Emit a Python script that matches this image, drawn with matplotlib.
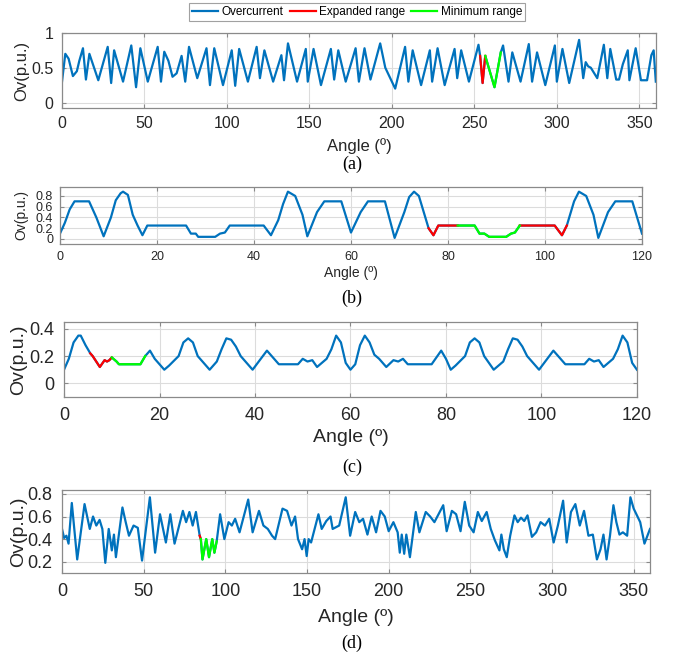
import numpy as np
import matplotlib
matplotlib.use("Agg")
import matplotlib.pyplot as plt
from matplotlib.lines import Line2D

plt.rcParams['font.family'] = ['Liberation Sans', 'DejaVu Sans']

# Colores estilo MATLAB
BLUE = '#0072BD'
RED = '#FF0000'
GREEN = '#00FF00'

# ---- datos (a) ----
a_ang = [0, 2, 4, 6.6, 9, 10.5, 12.7, 14.5, 16.6, 22, 27.7, 29.8, 31.6, 37, 42, 44.9, 47.5, 52,
         58, 60, 62, 64.5, 67, 69.5, 72.5, 74.7, 77, 82, 87.6, 89.7, 92.3, 97.6, 102.9, 105, 107.4,
         112.7, 118, 120, 122.7, 128, 133, 134.6, 137, 142.5, 147.8, 149, 152.5, 157, 163, 165,
         167.5, 172, 178, 180, 183.4, 187, 192.9, 196, 202, 208, 210, 212.6, 217.7, 223, 224.4,
         227.7, 232, 238, 239.6, 242, 246.7, 252.5, 253.5, 255, 256.6, 262.2, 266, 267.4, 270.7,
         273, 278, 283, 285, 288, 293, 298.8, 300, 303.4, 307.5, 313.5, 316, 317.5, 319, 320.6,
         324.5, 328.5, 330.6, 332.4, 336, 337.7, 340, 343, 344, 347.8, 351, 354.7, 357.3, 358.7, 360]
a_val = [0.3, 0.7, 0.63, 0.38, 0.45, 0.6, 0.78, 0.33, 0.7, 0.32, 0.8, 0.28, 0.75, 0.3, 0.82, 0.22,
         0.78, 0.3, 0.8, 0.3, 0.73, 0.6, 0.37, 0.42, 0.67, 0.3, 0.8, 0.35, 0.78, 0.25, 0.78, 0.25,
         0.75, 0.24, 0.77, 0.3, 0.8, 0.35, 0.75, 0.3, 0.68, 0.32, 0.85, 0.3, 0.77, 0.3, 0.77, 0.25,
         0.77, 0.33, 0.75, 0.3, 0.78, 0.3, 0.78, 0.33, 0.85, 0.5, 0.2, 0.8, 0.3, 0.75, 0.25, 0.75,
         0.3, 0.78, 0.25, 0.77, 0.35, 0.75, 0.3, 0.83, 0.67, 0.28, 0.67, 0.22, 0.72, 0.82, 0.3,
         0.72, 0.3, 0.84, 0.3, 0.72, 0.25, 0.82, 0.3, 0.77, 0.28, 0.9, 0.35, 0.58, 0.52, 0.5,
         0.35, 0.83, 0.35, 0.77, 0.33, 0.33, 0.55, 0.75, 0.32, 0.78, 0.32, 0.32, 0.68, 0.75, 0.3]
a_red = [(253.5, 256.6)]
a_green = [(256.6, 266)]

# ---- datos (b) ----
b_ang = [0, 1, 2, 3, 6, 7.5, 9, 10.5, 11.5, 12.5, 13, 14, 15, 16, 17, 18, 26, 27, 28, 28.5, 32,
         33, 34, 35, 42, 43.5, 45, 46, 47, 48.5, 50, 51, 53, 54.5, 58, 60, 62, 63.5, 67, 69, 71,
         72, 73, 74, 75.5, 76, 77, 78, 82, 85.5, 86.5, 87.5, 88.5, 92, 93, 93.8, 94.8, 102, 103.5,
         104.5, 105, 106, 107, 108.5, 110, 111, 113, 114.5, 118, 120]
b_val = [0.1, 0.3, 0.55, 0.7, 0.7, 0.4, 0.05, 0.4, 0.72, 0.85, 0.88, 0.82, 0.45, 0.25, 0.07, 0.25,
         0.25, 0.1, 0.1, 0.04, 0.04, 0.1, 0.12, 0.25, 0.25, 0.07, 0.35, 0.65, 0.88, 0.8, 0.45, 0.05,
         0.5, 0.7, 0.7, 0.12, 0.5, 0.7, 0.7, 0.02, 0.5, 0.78, 0.88, 0.8, 0.35, 0.2, 0.07, 0.25,
         0.25, 0.25, 0.1, 0.1, 0.04, 0.04, 0.1, 0.12, 0.25, 0.25, 0.07, 0.25, 0.4, 0.7, 0.88, 0.8,
         0.45, 0.02, 0.5, 0.7, 0.7, 0.1]
b_red = [(76, 82), (94.8, 104.5)]
b_green = [(82, 94.8)]

# ---- datos (c) ----
c_ang = [0, 1, 2, 3, 3.5, 4.5, 5.5, 6, 7.5, 8.5, 9, 9.5, 10, 11, 11.5, 16, 17, 18, 19, 21, 22, 24,
         25, 26, 27, 28, 30.5, 32, 33, 34, 35, 36, 37, 39.5, 41, 42.5, 44, 45, 49, 50, 51, 52, 53,
         55, 56, 57, 58, 59, 60, 61, 62, 63, 64, 65, 66, 67.5, 69, 70, 71, 72, 77, 79, 80, 81, 82,
         84, 85, 86, 87, 88, 90, 92, 93, 94, 95, 96, 97, 99.5, 101, 102.5, 104, 105, 109, 110, 111,
         112, 113, 115, 116, 117, 118, 119, 120]
c_val = [0.1, 0.18, 0.3, 0.35, 0.35, 0.28, 0.22, 0.2, 0.12, 0.17, 0.16, 0.17, 0.19, 0.16, 0.14,
         0.14, 0.2, 0.24, 0.18, 0.1, 0.13, 0.2, 0.3, 0.33, 0.3, 0.2, 0.1, 0.16, 0.25, 0.33, 0.32,
         0.27, 0.2, 0.1, 0.17, 0.24, 0.18, 0.14, 0.14, 0.18, 0.16, 0.17, 0.12, 0.18, 0.25, 0.35,
         0.3, 0.15, 0.1, 0.14, 0.28, 0.35, 0.3, 0.21, 0.18, 0.12, 0.17, 0.16, 0.18, 0.14, 0.14,
         0.24, 0.18, 0.1, 0.13, 0.2, 0.3, 0.33, 0.3, 0.2, 0.1, 0.16, 0.25, 0.33, 0.32, 0.27, 0.2,
         0.1, 0.17, 0.24, 0.18, 0.14, 0.14, 0.18, 0.16, 0.17, 0.12, 0.18, 0.25, 0.35, 0.3, 0.15, 0.1]
c_red = [(5.5, 10)]
c_green = [(10, 17)]

# ---- datos (d) ----
d_ang = [0, 1.3, 2.7, 4, 6, 9.3, 13.8, 17, 19, 21, 23, 24.7, 26.5, 28.6, 30.5, 31.8, 33, 37, 39,
         41, 43.8, 46.4, 49, 53.8, 57, 60, 63.6, 66.3, 68.9, 74, 76, 78, 80, 82, 84.3, 85, 86,
         88.3, 90, 92, 93.3, 94.7, 96.8, 99.4, 102, 104, 106, 108.7, 114, 116.7, 120.6, 123.3, 126,
         128.6, 130.5, 135, 137.8, 140.5, 142.7, 144.5, 147, 148.5, 149.8, 151, 152.5, 157, 159,
         161.8, 164.4, 165.7, 169.7, 173.7, 176.4, 179.5, 182, 184.3, 187, 189.6, 192.3, 195,
         197.6, 200, 202.9, 205.5, 206.8, 208, 209.5, 210.8, 213, 216.6, 218.8, 222.7, 225.4, 228,
         233.4, 235.5, 238.7, 241.3, 244, 246.6, 249.3, 252, 254.6, 257, 260, 262.5, 265, 267.8,
         269, 270.5, 272.3, 274.4, 277, 279, 281, 283, 285, 287.7, 290.3, 293, 295.7, 298.3, 301,
         303.6, 306.8, 309, 311.6, 314.3, 317, 319.6, 322.3, 325, 327.5, 329.7, 331.5, 333.4,
         335.5, 337.6, 339.4, 341.3, 343.4, 346, 348, 350, 354, 356.6, 360]
d_val = [0.49, 0.41, 0.43, 0.36, 0.72, 0.22, 0.71, 0.49, 0.6, 0.52, 0.57, 0.49, 0.19, 0.49, 0.3,
         0.44, 0.24, 0.68, 0.55, 0.43, 0.52, 0.5, 0.21, 0.77, 0.28, 0.62, 0.37, 0.62, 0.36, 0.65,
         0.55, 0.64, 0.52, 0.64, 0.43, 0.4, 0.22, 0.4, 0.24, 0.4, 0.28, 0.38, 0.62, 0.4, 0.55, 0.52,
         0.58, 0.46, 0.75, 0.46, 0.65, 0.52, 0.49, 0.43, 0.4, 0.67, 0.65, 0.52, 0.6, 0.4, 0.31, 0.4,
         0.25, 0.4, 0.37, 0.62, 0.49, 0.56, 0.6, 0.49, 0.52, 0.77, 0.43, 0.64, 0.55, 0.58, 0.44,
         0.6, 0.46, 0.65, 0.6, 0.47, 0.55, 0.46, 0.28, 0.44, 0.27, 0.44, 0.24, 0.64, 0.46, 0.64,
         0.6, 0.55, 0.7, 0.47, 0.65, 0.62, 0.47, 0.73, 0.52, 0.46, 0.64, 0.56, 0.64, 0.49, 0.39,
         0.3, 0.44, 0.31, 0.24, 0.43, 0.61, 0.55, 0.59, 0.56, 0.61, 0.42, 0.46, 0.55, 0.52, 0.58,
         0.37, 0.52, 0.74, 0.37, 0.64, 0.71, 0.52, 0.65, 0.43, 0.44, 0.22, 0.31, 0.44, 0.22, 0.43,
         0.7, 0.55, 0.44, 0.46, 0.43, 0.77, 0.67, 0.55, 0.36, 0.49]
d_red = [(84.3, 85)]
d_green = [(85, 94.7)]

# paneles: datos, rangos, posicion, limites, fuentes, posiciones de etiquetas
panels = [
    dict(x=a_ang, y=a_val, red=a_red, green=a_green, pos=[0.092, 0.836, 0.881, 0.114],
         xl=(0, 360), yl=(-0.08, 1.0), yt=[0, 0.5, 1], ytl=['0', '0.5', '1'],
         xt=np.arange(0, 361, 50), fst=11.5, fsl=12, pad=6, xlab=-0.50, ylab=-0.067,
         tag='(a)', ty=0.750),
    dict(x=b_ang, y=b_val, red=b_red, green=b_green, pos=[0.089, 0.630, 0.8635, 0.0865],
         xl=(0, 120), yl=(-0.09, 0.97), yt=[0, 0.2, 0.4, 0.6, 0.8],
         ytl=['0', '0.2', '0.4', '0.6', '0.8'], xt=np.arange(0, 121, 20), fst=9, fsl=10,
         pad=5, xlab=-0.51, ylab=-0.067, tag='(b)', ty=0.548),
    dict(x=c_ang, y=c_val, red=c_red, green=c_green, pos=[0.095, 0.3976, 0.850, 0.1138],
         xl=(0, 120), yl=(-0.1, 0.45), yt=[0, 0.2, 0.4], ytl=['0', '0.2', '0.4'],
         xt=np.arange(0, 121, 20), fst=13, fsl=14, pad=7, xlab=-0.54, ylab=-0.079,
         tag='(c)', ty=0.291),
    dict(x=d_ang, y=d_val, red=d_red, green=d_green, pos=[0.092, 0.1305, 0.8724, 0.126],
         xl=(0, 360), yl=(0.1, 0.835), yt=[0.2, 0.4, 0.6, 0.8],
         ytl=['0.2', '0.4', '0.6', '0.8'], xt=np.arange(0, 361, 50), fst=13, fsl=14, pad=7,
         xlab=-0.53, ylab=-0.074, tag='(d)', ty=0.024),
]

fig = plt.figure(figsize=(6.74, 6.59), dpi=100)

for p in panels:
    ax = fig.add_axes(p['pos'])
    x = np.array(p['x'])
    y = np.array(p['y'])
    ax.plot(x, y, color=BLUE, lw=1.6)
    for s, e in p['red']:
        m = (x >= s) & (x <= e)
        ax.plot(x[m], y[m], color=RED, lw=1.6)
    for s, e in p['green']:
        m = (x >= s) & (x <= e)
        ax.plot(x[m], y[m], color=GREEN, lw=1.6)
    ax.set_xlim(*p['xl'])
    ax.set_ylim(*p['yl'])
    ax.set_xticks(p['xt'])
    ax.set_yticks(p['yt'])
    ax.set_yticklabels(p['ytl'])
    ax.grid(True, color='#dcdcdc', lw=0.8)
    ax.set_axisbelow(True)
    for sp in ax.spines.values():
        sp.set_color('#8a8a8a')
        sp.set_linewidth(0.9)
    ax.tick_params(direction='in', top=True, right=True, length=3, color='#8a8a8a',
                   labelsize=p['fst'], labelcolor='#262626', pad=p['pad'])
    ax.set_xlabel('Angle (º)', fontsize=p['fsl'], color='#262626', va='center')
    ax.set_ylabel('Ov(p.u.)', fontsize=p['fsl'], color='#262626', va='center')
    ax.xaxis.set_label_coords(0.5, p['xlab'])
    ax.yaxis.set_label_coords(p['ylab'], 0.5)
    fig.text(0.522, p['ty'], p['tag'], ha='center', va='center', fontsize=13,
             family=['Liberation Serif', 'DejaVu Serif'])

handles = [Line2D([], [], color=BLUE, lw=1.6),
           Line2D([], [], color=RED, lw=1.6),
           Line2D([], [], color=GREEN, lw=1.6)]
leg = fig.legend(handles, ['Overcurrent', 'Expanded range', 'Minimum range'],
                 loc='center', bbox_to_anchor=(0.53, 0.982), ncol=3, fontsize=8.5,
                 frameon=True, fancybox=False, handlelength=2.2, handletextpad=0.3,
                 columnspacing=0.5, borderpad=0.25)
leg.get_frame().set_edgecolor('#8a8a8a')
leg.get_frame().set_linewidth(0.8)

fig.savefig('out.png', dpi=100)
